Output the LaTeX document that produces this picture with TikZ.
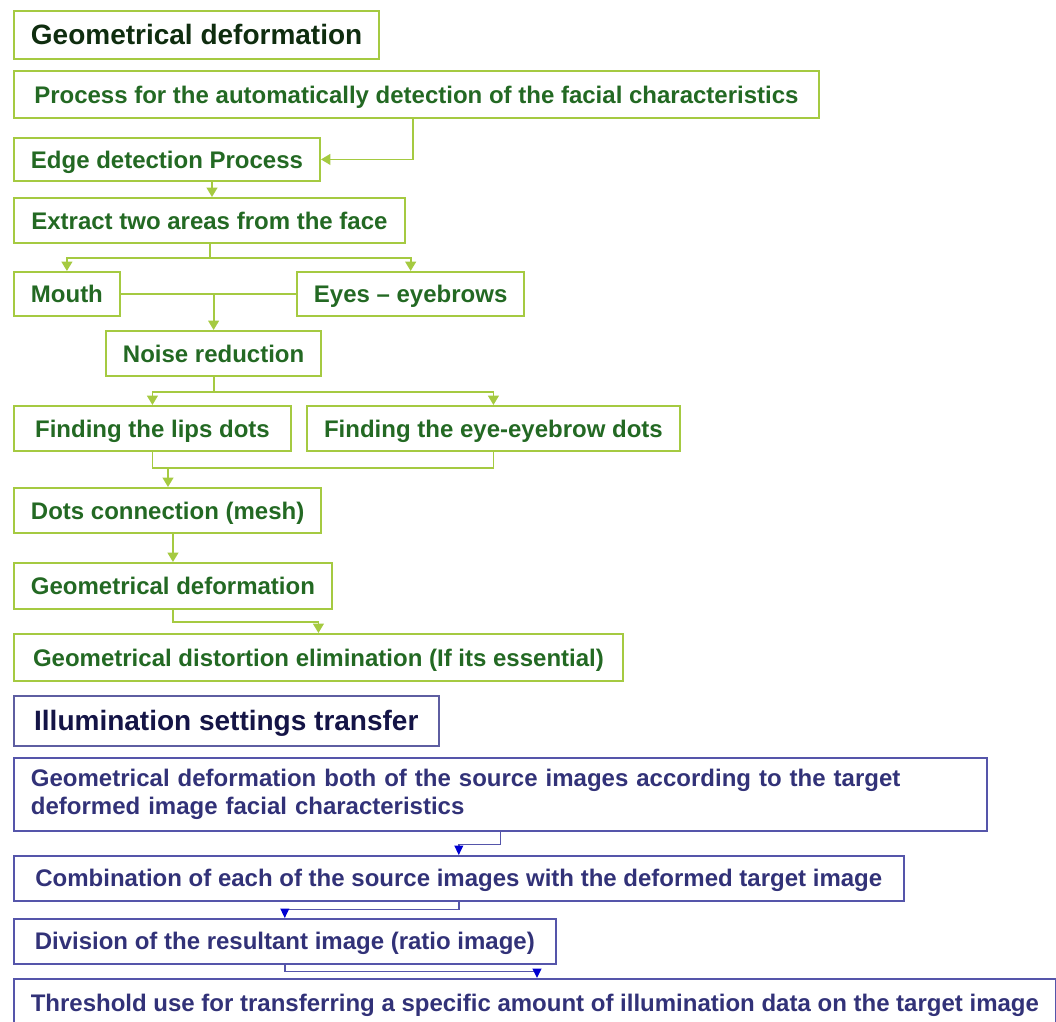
\documentclass[tikz,border=0pt]{standalone}
\usepackage{fontspec}
\setmainfont{Liberation Sans}
\usetikzlibrary{arrows.meta}

\definecolor{gruenrand}{RGB}{165,202,65}
\definecolor{gruentext}{RGB}{35,105,35}
\definecolor{titelgruen}{RGB}{15,45,15}
\definecolor{blaurand}{RGB}{85,85,170}
\definecolor{blautext}{RGB}{50,50,120}
\definecolor{titelblau}{RGB}{20,20,70}
\definecolor{blauspitze}{RGB}{0,0,210}

\begin{document}
\begin{tikzpicture}[x=0.75pt,y=-0.75pt,
kasten/.style={draw=gruenrand, line width=1.4pt, anchor=north west, inner xsep=12.75pt, inner ysep=0pt, text=gruentext, font=\bfseries\fontsize{18pt}{21pt}\selectfont, text height=15pt, text depth=2pt, minimum height=33.75pt},
titelkasten/.style={kasten, text=titelgruen, font=\bfseries\fontsize{21pt}{25pt}\selectfont, text height=17pt, minimum height=36pt},
blaukasten/.style={kasten, draw=blaurand, line width=1.2pt, text=blautext},
blautitel/.style={titelkasten, draw=blaurand!80!gray, line width=1.2pt, text=titelblau, minimum height=37.5pt},
glinie/.style={draw=gruenrand, line width=1.4pt},
gpfeil/.style={glinie, -{Triangle[width=8pt,length=7pt]}},
bpfeil/.style={draw=blaurand, line width=1.2pt, -{Triangle[width=6.5pt,length=7pt,color=blauspitze]}},
]

\useasboundingbox (0,0) rectangle (1056,1021);

%Teil 1: geometrische Verformung
\node[titelkasten, minimum width=273.75pt] (geotitel) at (13,10) {Geometrical deformation};
\node[kasten, minimum width=603.75pt, minimum height=35.25pt] (erkennung) at (13,70) {Process for the automatically detection of the facial characteristics};
\node[kasten, minimum width=228.75pt, minimum height=32.25pt] (kante) at (13,137) {Edge detection Process};
\node[kasten, minimum width=293.25pt] (bereiche) at (13,197) {Extract two areas from the face};
\node[kasten, minimum width=77.25pt, minimum height=33pt] (mund) at (13,271) {Mouth};
\node[kasten, minimum width=168pt, minimum height=33pt] (augen) at (296,271) {Eyes -- eyebrows};
\node[kasten, minimum width=159.75pt] (rauschen) at (105,330) {Noise reduction};
\node[kasten, minimum width=207.75pt] (lippen) at (13,405) {Finding the lips dots};
\node[kasten, minimum width=279.75pt] (brauen) at (306,405) {Finding the eye-eyebrow dots};
\node[kasten, minimum width=230.25pt] (netz) at (13,487) {Dots connection (mesh)};
\node[kasten, minimum width=237.75pt, minimum height=34.5pt] (verformung) at (13,562) {Geometrical deformation};
\node[kasten, minimum width=456.75pt, minimum height=35.25pt] (verzerrung) at (13,633) {Geometrical distortion elimination (If its essential)};

%Teil 2: Beleuchtung
\node[blautitel, minimum width=318.75pt] (illtitel) at (13,695) {Illumination settings transfer};
\node[blaukasten, text height=, text depth=, minimum width=729.75pt, minimum height=54.75pt, text width=704pt, align=left] (quellen) at (13,757) {Geometrical deformation both of the source images according to the target\\deformed image facial characteristics};
\node[blaukasten, minimum width=667.5pt] (kombination) at (13,855) {Combination of each of the source images with the deformed target image};
\node[blaukasten, minimum width=406.5pt] (division) at (13,918) {Division of the resultant image (ratio image)};
\node[blaukasten, minimum height=36pt] (schwelle) at (13,978) {Threshold use for transferring a specific amount of illumination data on the target image};

\coordinate (spalteA) at (413,0);
\coordinate (spalteB) at (212,0);
\coordinate (gabel) at (210,258);
\coordinate (sammel) at (168,468);
\coordinate (spalteC) at (537,0);

\draw[gpfeil] (erkennung.south -| spalteA) |- (kante.east);
\draw[gpfeil] (kante.south -| spalteB) -- (bereiche.north -| spalteB);
\draw[glinie] (bereiche.south -| gabel) -- (gabel);
\draw[gpfeil] (gabel) -| (mund.north);
\draw[gpfeil] (gabel) -| (augen.north);
\draw[glinie] (mund.east) -- (augen.west);
\draw[gpfeil] (rauschen.north |- mund.east) -- (rauschen.north);
\draw[gpfeil] (rauschen.south) -- ++(0,15) -| (lippen.north);
\draw[gpfeil] (rauschen.south) -- ++(0,15) -| (brauen.north);
\draw[glinie] (lippen.south) |- (sammel) -| (brauen.south);
\draw[gpfeil] (sammel) -- (netz.north -| sammel);
\draw[gpfeil] (verformung.north |- netz.south) -- (verformung.north);
\draw[gpfeil] (verformung.south) -- ++(0,12) -| (verzerrung.north);

\draw[bpfeil] (quellen.south) -- ++(0,13) -| (kombination.north);
\draw[bpfeil] (kombination.south) -- ++(0,8) -| (division.north);
\draw[bpfeil] (division.south) -- ++(0,7) -| (schwelle.north -| spalteC);

\end{tikzpicture}
\end{document}
